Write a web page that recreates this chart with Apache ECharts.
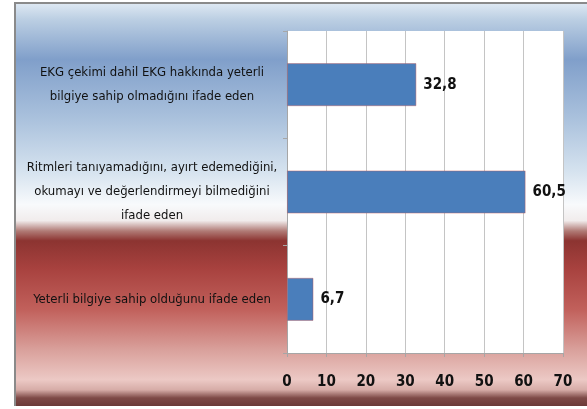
<!DOCTYPE html>
<html>
<head>
<meta charset="utf-8">
<script src="https://cdn.jsdelivr.net/npm/echarts@6/dist/echarts.min.js"></script>
<style>
  html, body { margin: 0; padding: 0; background: #fff; }
  #chart { width: 587px; height: 409px; }
</style>
</head>
<body>
<div id="chart"></div>
<script>
// categories top to bottom, values in percent
const categories = [
  'EKG çekimi dahil EKG hakkında yeterli\nbilgiye sahip olmadığını ifade eden',
  'Ritmleri tanıyamadığını, ayırt edemediğini,\nokumayı ve değerlendirmeyi bilmediğini\nifade eden',
  'Yeterli bilgiye sahip olduğunu ifade eden'
]
const values = [32.8, 60.5, 6.7]
const xTicks = [0, 10, 20, 30, 40, 50, 60, 70]

const FONT = "'Liberation Sans Narrow', 'DejaVu Sans Condensed', sans-serif"

const chart = echarts.init(document.getElementById('chart'), null, { renderer: 'canvas' })

const bg = new echarts.graphic.LinearGradient(0, 0, 0, 1, [
  { offset: 0,     color: '#dfe9f3' },
  { offset: 0.04,  color: '#bccfe3' },
  { offset: 0.14,  color: '#809fca' },
  { offset: 0.29,  color: '#abc2dd' },
  { offset: 0.42,  color: '#d6e3ef' },
  { offset: 0.50,  color: '#f8fafc' },
  { offset: 0.54,  color: '#f1ecec' },
  { offset: 0.566, color: '#b07a75' },
  { offset: 0.59,  color: '#8c3431' },
  { offset: 0.66,  color: '#a8423f' },
  { offset: 0.76,  color: '#c1605b' },
  { offset: 0.86,  color: '#d9a09b' },
  { offset: 0.935, color: '#ecc9c5' },
  { offset: 0.96,  color: '#d6aca7' },
  { offset: 0.98,  color: '#7e4a47' },
  { offset: 1,     color: '#6b3a38' }
])

chart.setOption({
  animation: false,
  backgroundColor: '#ffffff',
  textStyle: { fontFamily: FONT },
  graphic: [
    {
      type: 'rect', z: -10, silent: true,
      shape: { x: 15, y: 3, width: 572, height: 403 },
      style: { fill: bg }
    },
    {
      type: 'polyline', z: -9, silent: true,
      shape: { points: [[15, 406], [15, 3], [587, 3]] },
      style: { stroke: '#8a8a8a', lineWidth: 2, fill: null }
    }
  ],
  grid: {
    left: 287, right: 24, top: 31, bottom: 56,
    containLabel: false,
    outerBoundsMode: 'none',
    show: true, backgroundColor: '#ffffff', borderWidth: 0
  },
  xAxis: {
    type: 'value',
    min: 0, max: 70, interval: 10,
    axisLine: { show: true, lineStyle: { color: '#a6a6a6', width: 1 } },
    axisTick: { show: true, length: 4, lineStyle: { color: '#a6a6a6' } },
    splitLine: { show: true, lineStyle: { color: '#c4c4c4', width: 1 } },
    axisLabel: {
      margin: 22,
      color: '#111',
      fontSize: 15,
      fontWeight: 'bold',
      fontFamily: FONT,
      formatter: v => xTicks.includes(v) ? String(v) : ''
    }
  },
  yAxis: {
    type: 'category',
    inverse: true,
    data: categories,
    axisLine: { show: true, lineStyle: { color: '#a6a6a6', width: 1 } },
    axisTick: { show: true, length: 4, lineStyle: { color: '#a6a6a6' } },
    splitLine: { show: false },
    axisLabel: {
      align: 'center',
      margin: 135,
      color: '#111',
      fontSize: 13,
      lineHeight: 24,
      fontFamily: FONT
    }
  },
  series: [
    {
      type: 'bar',
      data: values,
      barWidth: '40%',
      itemStyle: { color: '#4a7ebb', borderColor: 'rgba(190,90,90,0.55)', borderWidth: 0.8 },
      label: {
        show: true,
        position: 'right',
        distance: 7,
        color: '#111',
        fontSize: 15,
        fontWeight: 'bold',
        fontFamily: FONT,
        formatter: p => String(p.value).replace('.', ',')
      },
      emphasis: { disabled: true }
    }
  ]
})
</script>
</body>
</html>
